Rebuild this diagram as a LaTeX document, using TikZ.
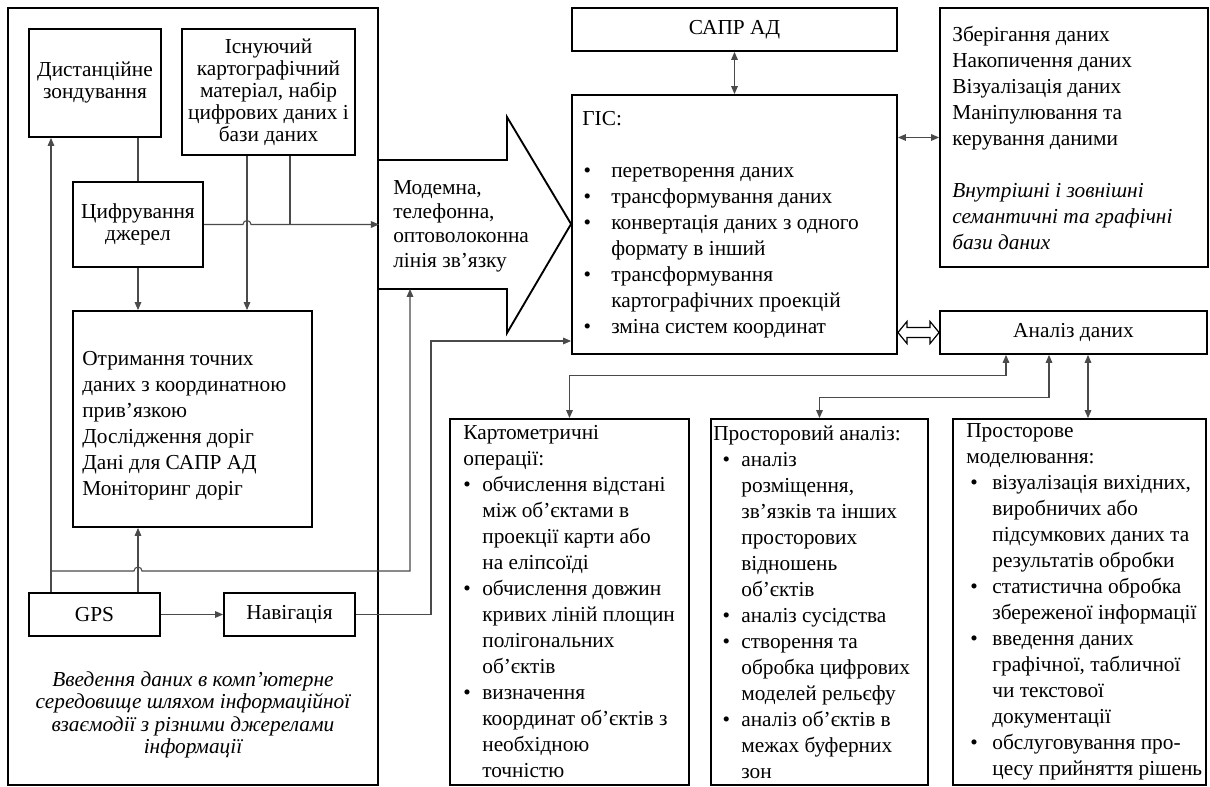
\documentclass[tikz,border=0pt]{standalone}
\usepackage{fontspec}
\setmainfont{Liberation Serif}
\usetikzlibrary{calc,arrows.meta}

\definecolor{lgray}{HTML}{4A4A4A}

% bullet line and continuation line; indent and bullet shift are set per text
\newlength{\pind}
\newlength{\psh}
\setlength{\pind}{21pt}
\setlength{\psh}{1.5pt}
\newcommand{\pnkt}{\makebox[\pind][l]{\hspace{\psh}•}}
\newcommand{\vdst}{\hspace*{\pind}}

\begin{document}
\begin{tikzpicture}[x=0.75pt, y=-0.75pt, >={Triangle[length=6pt,width=5pt]},
  line join=miter,
  blk/.style={draw, line width=1.4pt, font=\fontsize{16}{19.5}\selectfont},
  tight/.style={font=\fontsize{16}{16.5}\selectfont},
  txt/.style={align=left, inner sep=0pt, anchor=west, font=\fontsize{16}{19.5}\selectfont},
  sz/.style 2 args={minimum width=#1*0.75pt, minimum height=#2*0.75pt},
  ind/.code 2 args={\setlength{\pind}{#1}\setlength{\psh}{#2}},
  ln/.style={draw=lgray, line width=0.8pt},
  arrw/.style={draw, line width=1.4pt}]

  \useasboundingbox (0,0) rectangle (1210,787);

  % ===== ліва частина: введення даних =====
  \node[blk, sz={370}{777}] (vvid) at (193,396.5) {};

  \node[blk, sz={132}{108}, align=center, tight] (dz) at (95,83)
    {Дистанційне\\зондування};
  \node[blk, sz={173}{126}, align=center, tight] (isn) at (268.5,92)
    {Існуючий\\картографічний\\матеріал, набір\\цифрових даних і\\бази даних};
  \node[blk, sz={130}{85}, align=center, tight] (tsyf) at (138,224.5)
    {Цифрування\\джерел};
  \node[blk, sz={239}{216}] (otr) at (192.5,419) {};
  \node[txt] (otrT) at ($(otr.west)+(10,6.5)$)
    {Отримання точних\\даних з координатною\\прив’язкою\\Дослідження доріг\\Дані для САПР АД\\Моніторинг доріг};
  \node[blk, sz={131}{43}] (gps) at (94.5,614.5) {GPS};
  \node[blk, sz={131}{43}] (nav) at (289.5,614.5) {Навігація};

  \node[align=center, inner sep=0pt, font=\fontsize{16}{16.8}\selectfont\itshape] (vvtxt) at (193,715)
    {Введення даних в комп’ютерне\\середовище шляхом інформаційної\\взаємодії з різними джерелами\\інформації};

  % ===== ГІС =====
  \node[blk, sz={325}{43}] (sapr) at (734.5,29.5) {САПР АД};
  \node[blk, sz={325}{259}] (gis) at (734.5,224.5) {};
  \node[txt, ind={21.75pt}{1pt}] (gisT) at ($(gis.west)+(11,0)$)
    {ГІС:\\[19.5pt]
     \pnkt перетворення даних\\
     \pnkt трансформування даних\\
     \pnkt конвертація даних з одного\\
     \vdst формату в інший\\
     \pnkt трансформування\\
     \vdst картографічних проекцій\\
     \pnkt зміна систем координат};
  \node[blk, sz={268}{259}] (zber) at (1074,137.5) {};
  \node[txt] (zberT) at ($(zber.west)+(13,0)$)
    {Зберігання даних\\Накопичення даних\\Візуалізація даних\\Маніпулювання та\\керування даними\\[19.5pt]
     \textit{Внутрішні і зовнішні}\\\textit{семантичні та графічні}\\\textit{бази даних}};
  \node[blk, sz={267}{43}] (anal) at (1073.5,332.5) {Аналіз даних};

  % ===== лінія зв'язку =====
  \draw[arrw] (378,160) -- (507,160) -- (507,117) -- (gis.west |- 0,224) -- (507,333) -- (507,289) -- (378,289);
  \node[anchor=west, align=left, inner sep=0pt, font=\fontsize{16}{18.2}\selectfont] (modem) at (393,226)
    {Модемна,\\телефонна,\\оптоволоконна\\лінія зв’язку};

  % ===== види аналізу =====
  \node[blk, sz={239}{366}] (kart) at (569.5,602) {};
  \node[txt, ind={14.25pt}{0pt}] (kartT) at ($(kart.west)+(14,0)$)
    {Картометричні\\
     операції:\\
     \pnkt обчислення відстані\\
     \vdst між об’єктами в\\
     \vdst проекції карти або\\
     \vdst на еліпсоїді\\
     \pnkt обчислення довжин\\
     \vdst кривих ліній площин\\
     \vdst полігональних\\
     \vdst об’єктів\\
     \pnkt визначення\\
     \vdst координат об’єктів з\\
     \vdst необхідною\\
     \vdst точністю};
  \node[blk, sz={217}{366}] (prost) at (819.5,602) {};
  \node[txt, ind={21pt}{7pt}] (prostT) at ($(prost.west)+(3,0)$)
    {Просторовий аналіз:\\
     \pnkt аналіз\\
     \vdst розміщення,\\
     \vdst зв’язків та інших\\
     \vdst просторових\\
     \vdst відношень\\
     \vdst об’єктів\\
     \pnkt аналіз сусідства\\
     \pnkt створення та\\
     \vdst обробка цифрових\\
     \vdst моделей рельєфу\\
     \pnkt аналіз об’єктів в\\
     \vdst межах буферних\\
     \vdst зон};
  \node[blk, sz={253}{366}] (model) at (1079.5,602) {};
  \node[txt, ind={19.5pt}{3pt}] (modelT) at ($(model.west)+(14,0)$)
    {Просторове\\
     моделювання:\\
     \pnkt візуалізація вихідних,\\
     \vdst виробничих або\\
     \vdst підсумкових даних та\\
     \vdst результатів обробки\\
     \pnkt статистична обробка\\
     \vdst збереженої інформації\\
     \pnkt введення даних\\
     \vdst графічної, табличної\\
     \vdst чи текстової\\
     \vdst документації\\
     \pnkt обслуговування про-\\
     \vdst цесу прийняття рішень};

  % ===== з'єднання в лівій частині =====
  \coordinate (isnL) at ($(isn.south)+(-21.5,0)$);
  \coordinate (isnR) at ($(isn.south)+(21.5,0)$);
  \coordinate (gpsL) at ($(gps.north)+(-43.5,0)$);
  \coordinate (gpsR) at ($(gps.north)+(43.5,0)$);
  \coordinate (hop1) at (isnL |- tsyf.east);
  \coordinate (kn1) at (gpsL |- 0,571);
  \coordinate (hop2) at (gpsR |- kn1);
  \coordinate (kn2) at (410,571);

  \draw[ln] (tsyf.north) -- (tsyf.north |- dz.south);
  \draw[ln,->] (tsyf.south) -- (tsyf.south |- otr.north);
  \draw[ln,->] (isnL) -- (isnL |- otr.north);
  \draw[ln] (isnR) -- (isnR |- tsyf.east);
  \draw[ln,->] (tsyf.east) -- ([xshift=-3pt]hop1) arc[start angle=180, end angle=0, radius=3pt]
    -- (vvid.east |- tsyf.east);

  \draw[ln,->] (gpsL) -- (gpsL |- dz.south);
  \draw[ln,->] (gpsR) -- (gpsR |- otr.south);
  \draw[ln,->] (kn1) -- ([xshift=-3pt]hop2) arc[start angle=180, end angle=0, radius=3pt]
    -- (kn2) -- (kn2 |- 0,289);
  \draw[ln,->] (gps.east) -- (nav.west);
  \draw[ln,->] (nav.east) -- (431,614.5) -- (431,341) -- (gis.west |- 0,341);

  % ===== з'єднання ГІС =====
  \draw[ln,<->] (sapr.south) -- (gis.north);
  \draw[ln,<->] (zber.west -| gis.east) -- (zber.west);

  % подвійна порожня стрілка
  \coordinate (hA) at (gis.east |- anal.west);
  \coordinate (hB) at (anal.west);
  \draw[line width=0.9pt, fill=white] (hA) -- ++(9,-11) -- ++(0,6) -- ($(hB)+(-9,-5)$) -- ++(0,-6)
    -- (hB) -- ++(-9,11) -- ++(0,-6) -- ($(hA)+(9,5)$) -- ++(0,6) -- cycle;

  \coordinate (a1) at ($(anal.south)+(-67.5,0)$);
  \coordinate (a2) at ($(anal.south)+(-24.5,0)$);
  \coordinate (a3) at ($(anal.south)+(14.5,0)$);
  \draw[ln,<->] (a1) -- ++(0,21) -| (kart.north);
  \draw[ln,<->] (a2) -- ++(0,43) -| (prost.north);
  \draw[ln,<->] (a3) -- (a3 |- model.north);

\end{tikzpicture}
\end{document}
